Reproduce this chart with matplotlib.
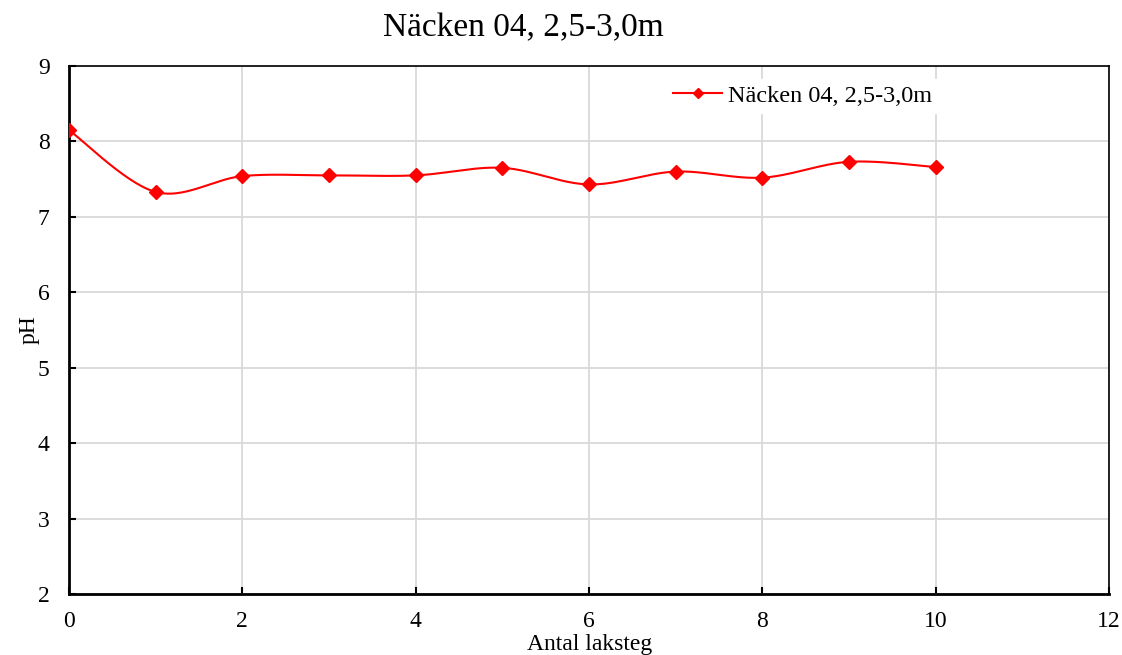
import numpy as np
import matplotlib.pyplot as plt

plt.rcParams["font.family"] = ["Liberation Serif", "DejaVu Serif"]

laksteg = [0, 1, 2, 3, 4, 5, 6, 7, 8, 9, 10]
ph = [8.15, 7.33, 7.54, 7.55, 7.55, 7.65, 7.43, 7.60, 7.52, 7.73, 7.66]
serie = "Näcken 04, 2,5-3,0m"


def smooth(x, y, n=30):
    # Catmull-Rom style smoothing like spreadsheet "smoothed line"
    x = np.asarray(x, float)
    y = np.asarray(y, float)
    px = np.concatenate([[x[0]], x, [x[-1]]])
    py = np.concatenate([[y[0]], y, [y[-1]]])
    t = np.linspace(0, 1, n)
    xs, ys = [], []
    for i in range(1, len(px) - 2):
        p0, p1, p2, p3 = (np.array([px[j], py[j]]) for j in (i - 1, i, i + 1, i + 2))
        c1 = p1 + (p2 - p0) / 6
        c2 = p2 - (p3 - p1) / 6
        b = ((1 - t) ** 3)[:, None] * p1 + (3 * (1 - t) ** 2 * t)[:, None] * c1 \
            + (3 * (1 - t) * t ** 2)[:, None] * c2 + (t ** 3)[:, None] * p2
        xs.append(b[:, 0])
        ys.append(b[:, 1])
    return np.concatenate(xs), np.concatenate(ys)


fig = plt.figure(figsize=(11.22, 6.55), dpi=100)
ax = fig.add_axes([69 / 1122, 1 - 594 / 655, (1109 - 69) / 1122, (594 - 66) / 655])

sx, sy = smooth(laksteg, ph)
ax.plot(sx, sy, color="red", lw=1.5, zorder=3)
ax.plot(laksteg, ph, ls="none", marker="D", ms=7, color="red", zorder=4)
ax.plot([], [], color="red", lw=1.5, marker="D", ms=5.5, label=serie)

ax.set_xlim(0, 12)
ax.set_ylim(2, 9)
ax.set_xticks(range(0, 13, 2))
ax.set_yticks(range(2, 10))
ax.grid(True, color="#d9d9d9", lw=1.3)
ax.set_axisbelow(True)
ax.tick_params(direction="in", length=5, width=1.5, labelsize=17, colors="black")
ax.tick_params(axis="x", pad=12)
ax.tick_params(axis="y", pad=14)
for side in ("left", "bottom"):
    ax.spines[side].set_linewidth(2)
for side in ("top", "right"):
    ax.spines[side].set_linewidth(1.2)

ax.set_xlabel("Antal laksteg", fontsize=17)
ax.xaxis.set_label_coords(0.501, -0.076)
ax.set_ylabel("pH", fontsize=17)
ax.yaxis.set_label_coords(-0.0285, 0.5)
fig.text(523 / 1122, 1 - 28 / 655, serie, fontsize=24, ha="center", va="center")

leg = ax.legend(loc="upper left", bbox_to_anchor=(0.5635, 0.999), frameon=True, fontsize=17.5,
                handlelength=2.0, handletextpad=0.25, borderpad=0.25)
leg.get_frame().set_edgecolor("white")
leg.get_frame().set_facecolor("white")
leg.get_frame().set_alpha(1)
leg.get_frame().set_boxstyle("square", pad=0)

fig.savefig("out.png", dpi=100)
